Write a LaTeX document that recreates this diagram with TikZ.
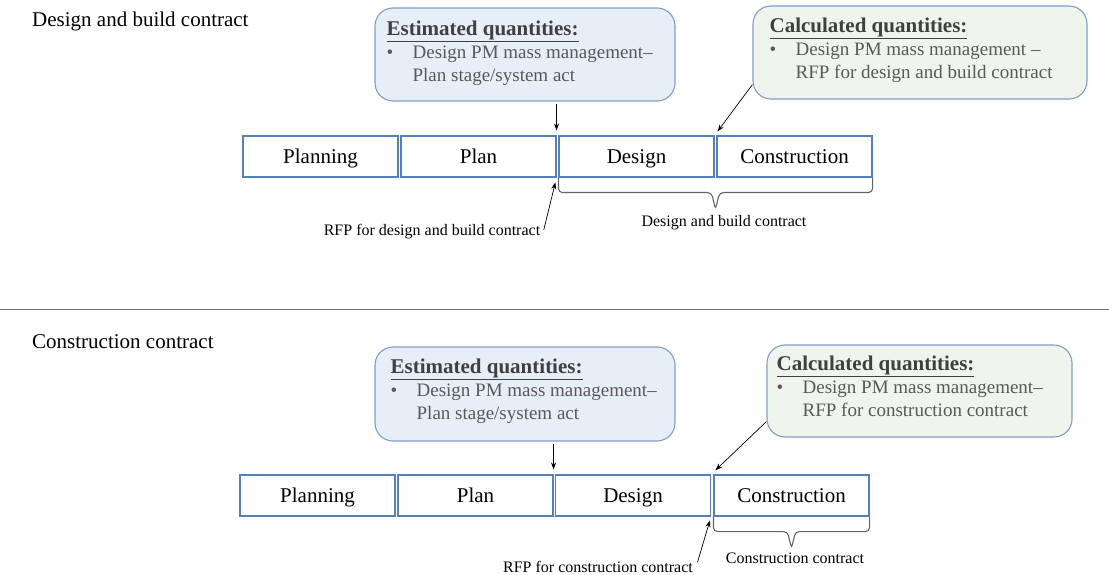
\documentclass[tikz,border=0pt]{standalone}
\usepackage{fontspec}
\setmainfont{Liberation Serif}
\usetikzlibrary{positioning,arrows.meta,calc}
\definecolor{stageblue}{RGB}{86,128,186}
\definecolor{boxedge}{RGB}{128,158,200}
\definecolor{estfill}{RGB}{230,238,248}
\definecolor{calcfill}{RGB}{239,245,236}
\definecolor{headgray}{RGB}{64,64,64}
\definecolor{bodygray}{RGB}{89,89,89}
\definecolor{bracegray}{RGB}{100,100,100}
\tikzset{
  stage/.style={draw=stageblue,line width=1.1pt,minimum width=155pt,minimum height=41pt,
    inner sep=0pt,text height=16pt,text depth=2pt,font=\fontsize{21}{25}\selectfont},
  qbox/.style={draw=boxedge,line width=1.1pt,rounded corners=18pt,inner sep=0pt},
  qtext/.style={anchor=north west,inner sep=0pt,align=left,text=bodygray,
    font=\fontsize{19}{23}\selectfont},
  ptr/.style={-{Stealth[length=7pt,width=5pt]},line width=0.7pt},
  brc/.style={draw=bracegray,line width=1.1pt,rounded corners=4pt},
  lbl/.style={font=\fontsize{16}{19}\selectfont},
  ttl/.style={anchor=base west,inner sep=0pt,font=\fontsize{21}{25}\selectfont},
  sepline/.style={line width=0.8pt,black!55},
}
% heading and one bullet item inside a quantities box
\newcommand{\qhead}[1]{{\color{headgray}\fontsize{21}{23}\selectfont\bfseries\underline{#1}}}
\newcommand{\qitem}[2]{\makebox[26pt][l]{\textbullet}#1\\\hspace*{26pt}#2}
% bracket under a run of stages
\newcommand{\brk}[2]{%
  \draw[brc] let \p1=(#1), \p2=(#2) in
    (\p1) -- (\x1,\y1-15pt) -- ({(\x1+\x2)/2-4pt},\y1-15pt) -- ({(\x1+\x2)/2},\y1-32pt)
    -- ({(\x1+\x2)/2+4pt},\y1-15pt) -- (\x2,\y1-15pt) -- (\p2);}

\begin{document}
\begin{tikzpicture}[x=1pt,y=-1pt]
  \useasboundingbox (0,0) rectangle (1109,575);

  % ---- design and build contract ----
  \node[ttl] (title1) at (32,27) {Design and build contract};
  \node[qbox,fill=estfill,minimum width=300pt,minimum height=93pt] (est1) at (525,54.5) {};
  \node[qtext] (est1t) at ($(est1.north west)+(12,13)$)
    {\qhead{Estimated quantities:}\\\qitem{Design PM mass management–}{Plan stage/system act}};
  \node[qbox,fill=calcfill,minimum width=334pt,minimum height=93pt] (calc1) at (920,52.5) {};
  \node[qtext] (calc1t) at ($(calc1.north west)+(17,12)$)
    {\qhead{Calculated quantities:}\\\qitem{Design PM mass management –}{RFP for design and build contract}};

  \node[stage] (plann1) at (320.5,156.5) {Planning};
  \node[stage] (plan1)  at (478.5,156.5) {Plan};
  \node[stage] (design1) at (636.5,156.5) {Design};
  \node[stage] (cons1)  at (794.5,156.5) {Construction};

  \draw[ptr,shorten <=2pt,shorten >=5pt] (est1.south -| plan1.north east) -- (plan1.north east);
  \draw[ptr,shorten >=5pt] ($(calc1.south west)+(0,-15)$) -- (design1.north east);

  \brk{design1.south west}{cons1.south east}
  \node[lbl] (dbc1) at (724,223) {Design and build contract};
  \node[lbl] (rfp1) at (432,232) {RFP for design and build contract};
  \draw[ptr,shorten >=5pt] ($(rfp1.east)+(0,-2)$) -- (plan1.south east);

  % ---- separator ----
  \coordinate (sepl) at (0,309);
  \coordinate (sepr) at (1109,309);
  \draw[sepline] (sepl) -- (sepr);

  % ---- construction contract ----
  \node[ttl] (title2) at (32,348) {Construction contract};
  \node[qbox,fill=estfill,minimum width=300pt,minimum height=94pt] (est2) at (525,394) {};
  \node[qtext] (est2t) at ($(est2.north west)+(16,12)$)
    {\qhead{Estimated quantities:}\\\qitem{Design PM mass management–}{Plan stage/system act}};
  \node[qbox,fill=calcfill,minimum width=305pt,minimum height=92pt] (calc2) at (919.5,391) {};
  \node[qtext] (calc2t) at ($(calc2.north west)+(10,11)$)
    {\qhead{Calculated quantities:}\\\qitem{Design PM mass management–}{RFP for construction contract}};

  \node[stage] (plann2) at (317.5,495.5) {Planning};
  \node[stage] (plan2)  at (475.5,495.5) {Plan};
  \node[stage] (design2) at (633,495.5) {Design};
  \node[stage] (cons2)  at (791.5,495.5) {Construction};

  \draw[ptr,shorten <=2pt,shorten >=5pt] (est2.south -| plan2.north east) -- (plan2.north east);
  \draw[ptr,shorten >=6pt] ($(calc2.south west)+(0,-16)$) -- (design2.north east);

  \brk{cons2.south west}{cons2.south east}
  \node[lbl] (cc2) at (795,558) {Construction contract};
  \node[lbl] (rfp2) at (598,567) {RFP for construction contract};
  \draw[ptr,shorten <=4pt,shorten >=4pt] ($(rfp2.east)+(0,-1)$) -- (design2.south east);
\end{tikzpicture}
\end{document}
